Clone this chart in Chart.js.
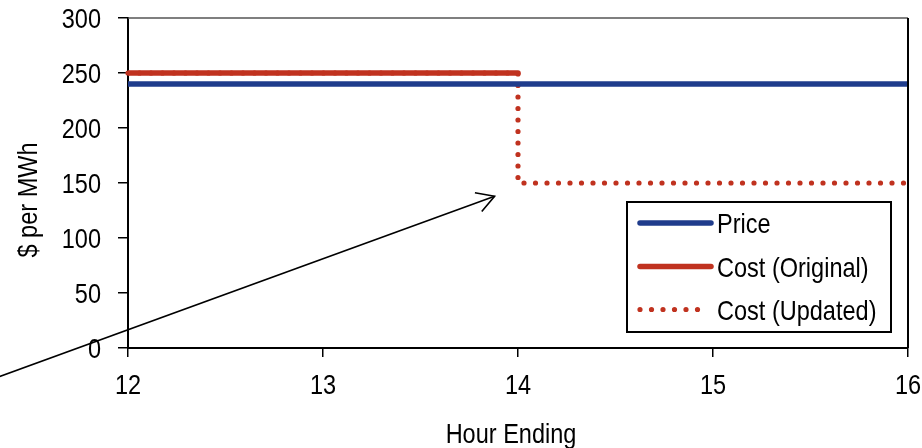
<!DOCTYPE html>
<html><head><meta charset="utf-8">
<script src="https://cdn.jsdelivr.net/npm/chart.js@4.4.0/dist/chart.umd.min.js"></script>
<style>html,body{margin:0;padding:0;background:#fff;overflow:hidden}#wrap{width:922px;height:448px}</style>
</head><body><div id="wrap"><canvas id="c" width="922" height="448" style="width:922px;height:448px"></canvas></div>
<script>
// ---- data ----
const hoursPrice = [12, 16];
const price = [240, 240];
const hoursOriginal = [12, 14];
const costOriginal = [250, 250];
const hoursUpdated = [12, 14, 14, 16];
const costUpdated = [250, 250, 150, 150];
const xTicks = [12, 13, 14, 15, 16];
const yTicks = [0, 50, 100, 150, 200, 250, 300];
const seriesNames = ['Price', 'Cost (Original)', 'Cost (Updated)'];
const xTitle = 'Hour Ending';
const yTitle = '$ per MWh';
// annotation arrow in data coordinates
const arrowFrom = {x: 11.34, y: -26};
const arrowTo = {x: 13.88, y: 138};

const FONT = "'Liberation Sans',Arial,sans-serif";
const FS = 28;
const SX = 0.84; // horizontal condensing to mimic a narrow face
const CAP = 0.716 * FS;
const BLUE = '#1f3c8c';
const RED = '#c0321f';

Chart.defaults.font.family = FONT;
Chart.defaults.font.size = FS;
Chart.defaults.color = '#000';

function pts(xs, ys){ return xs.map((x,i)=>({x:x, y:ys[i]})); }

function narrowText(ctx, text, x, y, align, rot){
  ctx.save();
  ctx.font = FS + 'px ' + FONT;
  ctx.fillStyle = '#000';
  ctx.textAlign = align; ctx.textBaseline = 'alphabetic';
  ctx.translate(x, y);
  if (rot) ctx.rotate(rot);
  ctx.scale(SX, 1);
  ctx.fillText(text, 0, 0);
  ctx.restore();
}

const extras = {
  id: 'extras',
  afterDatasetsDraw(chart){
    const ctx = chart.ctx, a = chart.chartArea;
    const xs = chart.scales.x, ys = chart.scales.y;
    ctx.save();
    // top and right frame of plot area
    ctx.strokeStyle = '#555'; ctx.lineWidth = 1.5;
    ctx.beginPath(); ctx.moveTo(a.left, a.top); ctx.lineTo(a.right, a.top); ctx.stroke();
    ctx.strokeStyle = '#000'; ctx.lineWidth = 2;
    ctx.beginPath(); ctx.moveTo(a.right, a.top); ctx.lineTo(a.right, a.bottom); ctx.stroke();

    // arrow
    const x0 = xs.getPixelForValue(arrowFrom.x), y0 = ys.getPixelForValue(arrowFrom.y);
    const x1 = xs.getPixelForValue(arrowTo.x), y1 = ys.getPixelForValue(arrowTo.y);
    ctx.strokeStyle = '#000'; ctx.lineWidth = 1.6; ctx.lineCap = 'butt';
    ctx.beginPath(); ctx.moveTo(x0, y0); ctx.lineTo(x1, y1); ctx.stroke();
    const ang = Math.atan2(y1 - y0, x1 - x0), L = 20, h = 30 * Math.PI / 180;
    ctx.beginPath();
    ctx.moveTo(x1 - L * Math.cos(ang - h), y1 - L * Math.sin(ang - h));
    ctx.lineTo(x1, y1);
    ctx.lineTo(x1 - L * Math.cos(ang + h), y1 - L * Math.sin(ang + h));
    ctx.stroke();

    // legend
    const bx = 627, by = 202, bw = 264, bh = 130;
    ctx.fillStyle = '#fff'; ctx.fillRect(bx, by, bw, bh);
    ctx.strokeStyle = '#000'; ctx.lineWidth = 2; ctx.strokeRect(bx, by, bw, bh);
    const rows = [223, 266.5, 309.5];
    chart.data.datasets.forEach((ds, i) => {
      const y = rows[i];
      const dashed = ds.borderDash && ds.borderDash.length;
      ctx.save();
      ctx.strokeStyle = ds.borderColor; ctx.lineWidth = ds.borderWidth;
      ctx.lineCap = 'round';
      if (dashed) ctx.setLineDash(ds.borderDash);
      ctx.beginPath(); ctx.moveTo(640, y); ctx.lineTo(dashed ? 700 : 711, y); ctx.stroke();
      ctx.restore();
      narrowText(ctx, ds.label, 717, y + CAP / 2, 'left');
    });

    // tick labels
    yTicks.forEach(v => narrowText(ctx, String(v), 101, ys.getPixelForValue(v) + CAP / 2, 'right'));
    xTicks.forEach(v => narrowText(ctx, String(v), xs.getPixelForValue(v), 394, 'center'));

    // axis titles
    narrowText(ctx, xTitle, 511, 443, 'center');
    narrowText(ctx, yTitle, 37, 200, 'center', -Math.PI / 2);
    ctx.restore();
  }
};

function zeroPad(s){ s.paddingTop = 0; s.paddingBottom = 0; s.paddingLeft = 0; s.paddingRight = 0; }

new Chart(document.getElementById('c'), {
  type: 'line',
  data: {
    datasets: [
      {label: seriesNames[0], data: pts(hoursPrice, price), borderColor: BLUE, backgroundColor: BLUE,
       borderWidth: 5.5, pointRadius: 0, borderCapStyle: 'butt', clip: false},
      {label: seriesNames[1], data: pts(hoursOriginal, costOriginal), borderColor: RED, backgroundColor: RED,
       borderWidth: 5.5, pointRadius: 0, borderCapStyle: 'round'},
      {label: seriesNames[2], data: pts(hoursUpdated, costUpdated), borderColor: RED, backgroundColor: RED,
       borderWidth: 5.2, pointRadius: 0, borderCapStyle: 'round', borderDash: [0, 11.5], clip: false}
    ]
  },
  options: {
    responsive: false,
    animation: false,
    devicePixelRatio: 1,
    layout: {padding: {top: 18, right: 14, left: 0, bottom: 0}},
    plugins: {legend: {display: false}, tooltip: {enabled: false}},
    scales: {
      x: {
        type: 'linear', min: 12, max: 16,
        afterBuildTicks: s => { s.ticks = xTicks.map(v => ({value: v})); },
        afterFit: s => { s.height = 100; zeroPad(s); },
        ticks: {display: false, autoSkip: false, maxRotation: 0},
        grid: {drawOnChartArea: false, drawTicks: true, tickLength: 9, color: '#000', lineWidth: 1.5},
        border: {display: true, color: '#000', width: 2},
        title: {display: false, text: xTitle}
      },
      y: {
        min: 0, max: 300,
        afterBuildTicks: s => { s.ticks = yTicks.map(v => ({value: v})); },
        afterFit: s => { s.width = 128; zeroPad(s); },
        ticks: {display: false},
        grid: {drawOnChartArea: false, drawTicks: true, tickLength: 10, color: '#000', lineWidth: 1.5},
        border: {display: true, color: '#000', width: 2},
        title: {display: false, text: yTitle}
      }
    }
  },
  plugins: [extras]
});
</script></body></html>
